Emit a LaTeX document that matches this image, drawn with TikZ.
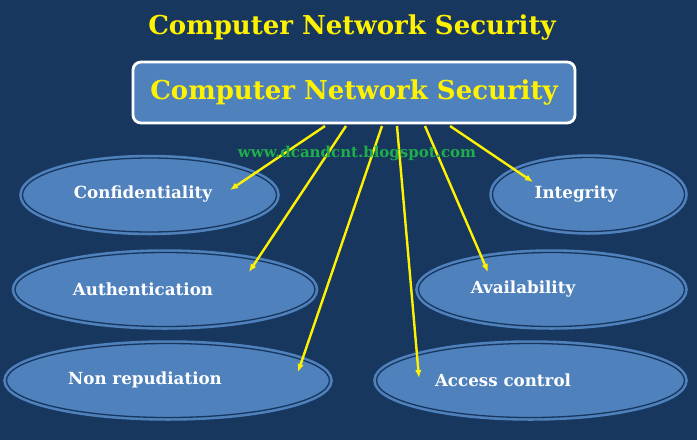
\documentclass[tikz,border=0pt]{standalone}
\usepackage{fontspec}
\setmainfont{DejaVu Serif}
\usetikzlibrary{arrows.meta,shapes.geometric}
\definecolor{navy}{HTML}{17375E}
\definecolor{cellblue}{HTML}{4F81BD}
\definecolor{wmgreen}{HTML}{1FAE4B}

\begin{document}
\begin{tikzpicture}[x=1pt,y=-1pt,>={Latex[length=8pt,width=6.5pt]},
 oval/.style={ellipse,draw=cellblue,double=navy,double distance=1.3pt,
 line width=2.6pt,fill=cellblue,inner sep=0pt},
 lbl/.style={text=white,font=\fontsize{16.7}{19}\selectfont\bfseries},
 arr/.style={->,draw=yellow,fill=yellow,line width=2.4pt}]
\fill[navy] (0,0) rectangle (697,440);
\useasboundingbox (0,0) rectangle (697,440);
\node[text=yellow,font=\fontsize{26}{30}\selectfont\bfseries] (title) at (352,28)
 {Computer Network Security};
\node[draw=white,line width=2.8pt,fill=cellblue,rounded corners=8pt,
 minimum width=442pt,minimum height=61pt,text=yellow,
 font=\fontsize{26}{30}\selectfont\bfseries] (cns) at (354,92.5)
 {Computer Network Security};
\node[oval,minimum width=254pt,minimum height=74pt] (conf) at (149.5,195) {};
\node[oval,minimum width=300pt,minimum height=74pt] (auth) at (165,289.5) {};
\node[oval,minimum width=323pt,minimum height=74pt] (nonrep) at (168,380.5) {};
\node[oval,minimum width=192pt,minimum height=74pt] (integ) at (588.5,194.5) {};
\node[oval,minimum width=266pt,minimum height=74pt] (avail) at (551.5,289.5) {};
\node[oval,minimum width=308pt,minimum height=74pt] (access) at (530.5,380.5) {};
\node[lbl] (conft) at (143,194) {Confidentiality};
\node[lbl] (autht) at (143,289) {Authentication};
\node[lbl] (nonrept) at (145,380) {Non repudiation};
\node[lbl] (integt) at (576,194) {Integrity};
\node[lbl] (availt) at (523,289) {Availability};
\node[lbl] (accesst) at (503,380) {Access control};
\coordinate (s1) at (325,126);
\coordinate (s2) at (346,126);
\coordinate (s3) at (382,126);
\coordinate (s4) at (397,126);
\coordinate (s5) at (425,126);
\coordinate (s6) at (450,126);
\coordinate (conftip) at (230,190);
\coordinate (authtip) at (249,272);
\coordinate (nonreptip) at (298,372);
\coordinate (accesstip) at (419,378);
\coordinate (availtip) at (488,272);
\coordinate (integtip) at (533,182);
\draw[arr] (s1)--(conftip);
\draw[arr] (s2)--(authtip);
\draw[arr] (s3)--(nonreptip);
\draw[arr] (s4)--(accesstip);
\draw[arr] (s5)--(availtip);
\draw[arr] (s6)--(integtip);
\node[text=wmgreen,font=\fontsize{15}{18}\selectfont\bfseries] (blog) at (357,153)
 {www.dcandcnt.blogspot.com};
\end{tikzpicture}
\end{document}
